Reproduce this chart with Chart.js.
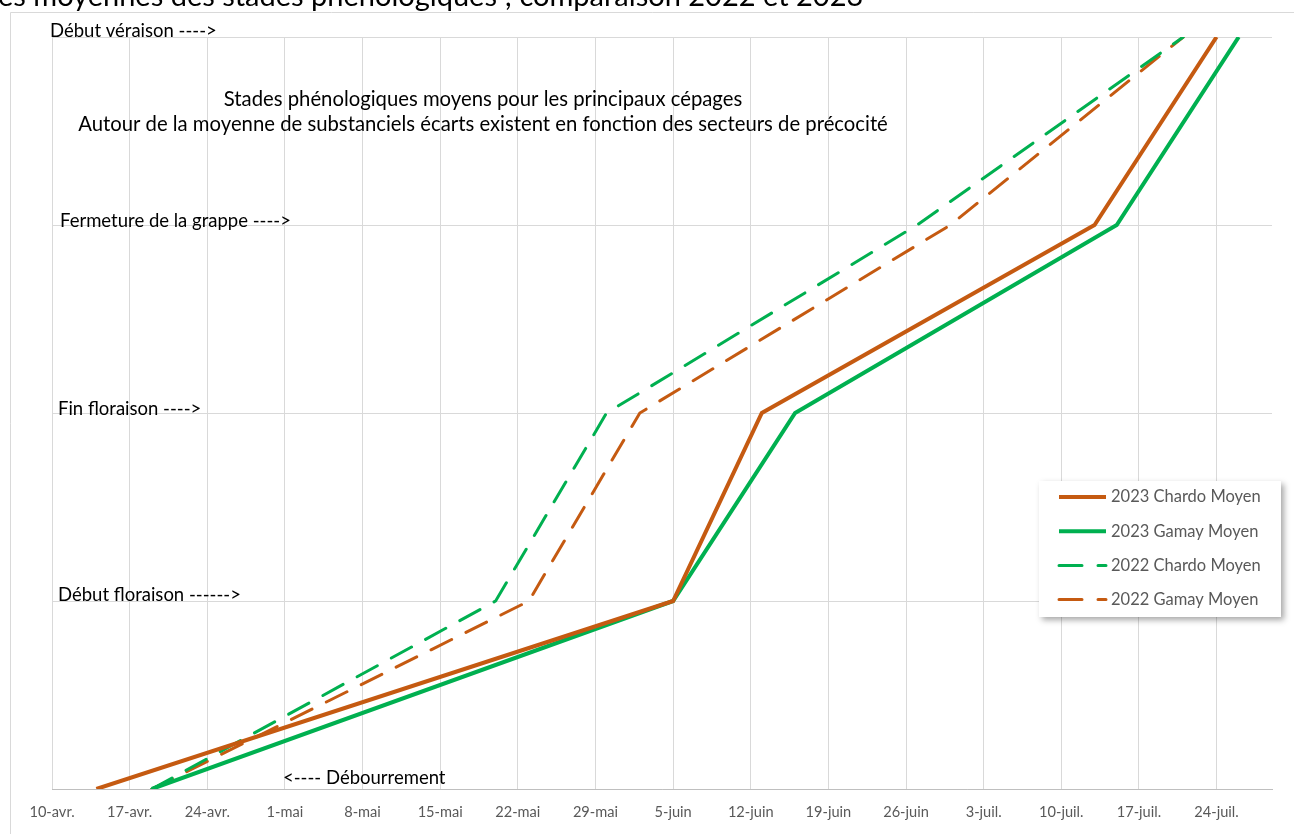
<!DOCTYPE html>
<html lang="fr">
<head>
<meta charset="utf-8">
<title>Stades phénologiques moyens 2022 / 2023</title>
<script src="https://cdn.jsdelivr.net/npm/chart.js@4.4.1/dist/chart.umd.min.js"></script>
<style>
  html, body { margin: 0; padding: 0; background: #fff; overflow: hidden; }
  #wrap { width: 1294px; height: 834px; }
</style>
</head>
<body>
<div id="wrap"><canvas id="chart" width="1294" height="834"></canvas></div>
<script>
// ── Data ───────────────────────────────────────────────
const stageLabels = ['<---- Débourrement', 'Début floraison ------>', 'Fin floraison ---->', 'Fermeture de la grappe ---->', 'Début véraison ---->'];
const stageValues = [0, 1, 2, 3, 4];

const tickLabels = ['10-avr.', '17-avr.', '24-avr.', '1-mai', '8-mai', '15-mai', '22-mai', '29-mai',
  '5-juin', '12-juin', '19-juin', '26-juin', '3-juil.', '10-juil.', '17-juil.', '24-juil.'];

// date at which each stage is reached (one date per stage value)
const chardo2023 = ['2023-04-14', '2023-06-05', '2023-06-13', '2023-07-13', '2023-07-24'];
const gamay2023  = ['2023-04-19', '2023-06-05', '2023-06-16', '2023-07-15', '2023-07-26'];
const chardo2022 = ['2022-04-19', '2022-05-20', '2022-05-30', '2022-06-27', '2022-07-21'];
const gamay2022  = ['2022-04-19', '2022-05-23', '2022-06-02', '2022-06-30', '2022-07-21'];

const titleTop = 'es moyennes des stades phénologiques ; comparaison 2022 et 2023';
const titleLines = ['Stades phénologiques moyens pour les principaux cépages',
  'Autour de la moyenne de substanciels écarts existent en fonction des secteurs de précocité'];

// ── Helpers ────────────────────────────────────────────
const ORANGE = '#C55A11';
const GREEN = '#00B050';
const FONT = 'Lato, "Noto Sans", sans-serif';

// days since 10 April of the same year, so both years share one axis
function dayNum(s) {
  const d = new Date(s + 'T00:00:00Z');
  return (d - Date.UTC(d.getUTCFullYear(), 3, 10)) / 86400000;
}
const toPoints = dates => dates.map((s, i) => ({ x: dayNum(s), y: stageValues[i] }));

function lineSet(label, dates, color, dashed) {
  return {
    label,
    data: toPoints(dates),
    borderColor: color,
    backgroundColor: color,
    borderWidth: dashed ? 3 : 4,
    borderDash: dashed ? [23, 16] : [],
    borderCapStyle: dashed ? 'round' : 'butt',
    borderJoinStyle: 'miter',
    pointRadius: 0,
    tension: 0,
    fill: false,
  };
}

// ── Plugins ────────────────────────────────────────────
const frame = {
  id: 'frame',
  beforeDraw(chart) {
    const ctx = chart.ctx;
    ctx.save();
    ctx.fillStyle = '#fff';
    ctx.fillRect(0, 0, chart.width, chart.height);
    ctx.strokeStyle = '#d9d9d9';
    ctx.lineWidth = 1;
    ctx.beginPath();
    ctx.moveTo(10.5, chart.height + 2);
    ctx.lineTo(10.5, 12.5);
    ctx.lineTo(chart.width + 2, 12.5);
    ctx.stroke();
    ctx.fillStyle = '#000';
    ctx.font = '29px ' + FONT;
    ctx.textBaseline = 'alphabetic';
    ctx.fillText(titleTop, -2, 6);
    ctx.restore();
  },
};

const labelPos = [{ x: 283, dy: -11 }, { x: 58, dy: -6 }, { x: 58, dy: -4 }, { x: 60, dy: -4 }, { x: 50, dy: -6 }];

const texts = {
  id: 'texts',
  afterDatasetsDraw(chart) {
    const ctx = chart.ctx;
    const y = chart.scales.y;
    ctx.save();
    ctx.fillStyle = '#000';
    ctx.font = '18.5px ' + FONT;
    ctx.textBaseline = 'middle';
    ctx.textAlign = 'left';
    stageLabels.forEach((t, i) => {
      ctx.fillText(t, labelPos[i].x, y.getPixelForValue(stageValues[i]) + labelPos[i].dy);
    });
    ctx.font = '20.3px ' + FONT;
    ctx.textAlign = 'center';
    titleLines.forEach((t, i) => ctx.fillText(t, 483, 99 + i * 25));
    ctx.restore();
  },
};

const boxLegend = {
  id: 'boxLegend',
  afterDraw(chart) {
    const ctx = chart.ctx;
    const bx = 1039, by = 481, bw = 242, bh = 136;
    ctx.save();
    ctx.shadowColor = 'rgba(0,0,0,0.35)';
    ctx.shadowBlur = 6;
    ctx.shadowOffsetX = 3;
    ctx.shadowOffsetY = 3;
    ctx.fillStyle = '#fff';
    ctx.fillRect(bx, by, bw, bh);
    ctx.shadowColor = 'transparent';
    ctx.font = '16.5px ' + FONT;
    ctx.textBaseline = 'middle';
    ctx.fillStyle = '#595959';
    chart.data.datasets.forEach((ds, i) => {
      const yy = 497 + i * 34.2;
      ctx.strokeStyle = ds.borderColor;
      ctx.lineWidth = ds.borderWidth;
      ctx.lineCap = ds.borderCapStyle;
      ctx.setLineDash(ds.borderDash);
      ctx.beginPath();
      ctx.moveTo(1059, yy);
      ctx.lineTo(1106, yy);
      ctx.stroke();
      ctx.setLineDash([]);
      ctx.fillText(ds.label, 1111, yy);
    });
    ctx.restore();
  },
};

// ── Chart ──────────────────────────────────────────────
new Chart(document.getElementById('chart'), {
  type: 'line',
  data: {
    datasets: [
      lineSet('2023 Chardo Moyen', chardo2023, ORANGE, false),
      lineSet('2023 Gamay Moyen', gamay2023, GREEN, false),
      lineSet('2022 Chardo Moyen', chardo2022, GREEN, true),
      lineSet('2022 Gamay Moyen', gamay2022, ORANGE, true),
    ],
  },
  options: {
    responsive: false,
    animation: false,
    devicePixelRatio: 1,
    layout: { padding: { left: 52, right: 22, top: 37, bottom: 0 } },
    plugins: { legend: { display: false }, tooltip: { enabled: false } },
    scales: {
      x: {
        type: 'linear',
        min: 0,
        max: 110,
        afterBuildTicks: s => { s.ticks = tickLabels.map((_, i) => ({ value: i * 7 })); },
        afterFit: s => { s.height = 45; },
        ticks: {
          callback: (v, i) => tickLabels[i],
          color: '#595959',
          font: { family: FONT, size: 14.6 },
          padding: 15,
          maxRotation: 0,
          autoSkip: false,
        },
        grid: { color: '#d9d9d9', drawTicks: false },
        border: { color: '#bfbfbf' },
      },
      y: {
        min: 0,
        max: 4,
        afterBuildTicks: s => { s.ticks = stageValues.map(v => ({ value: v })); },
        afterFit: s => { s.width = 0; },
        ticks: { display: false },
        grid: { color: '#d9d9d9', drawTicks: false },
        border: { display: false },
      },
    },
  },
  plugins: [frame, texts, boxLegend],
});
</script>
</body>
</html>
